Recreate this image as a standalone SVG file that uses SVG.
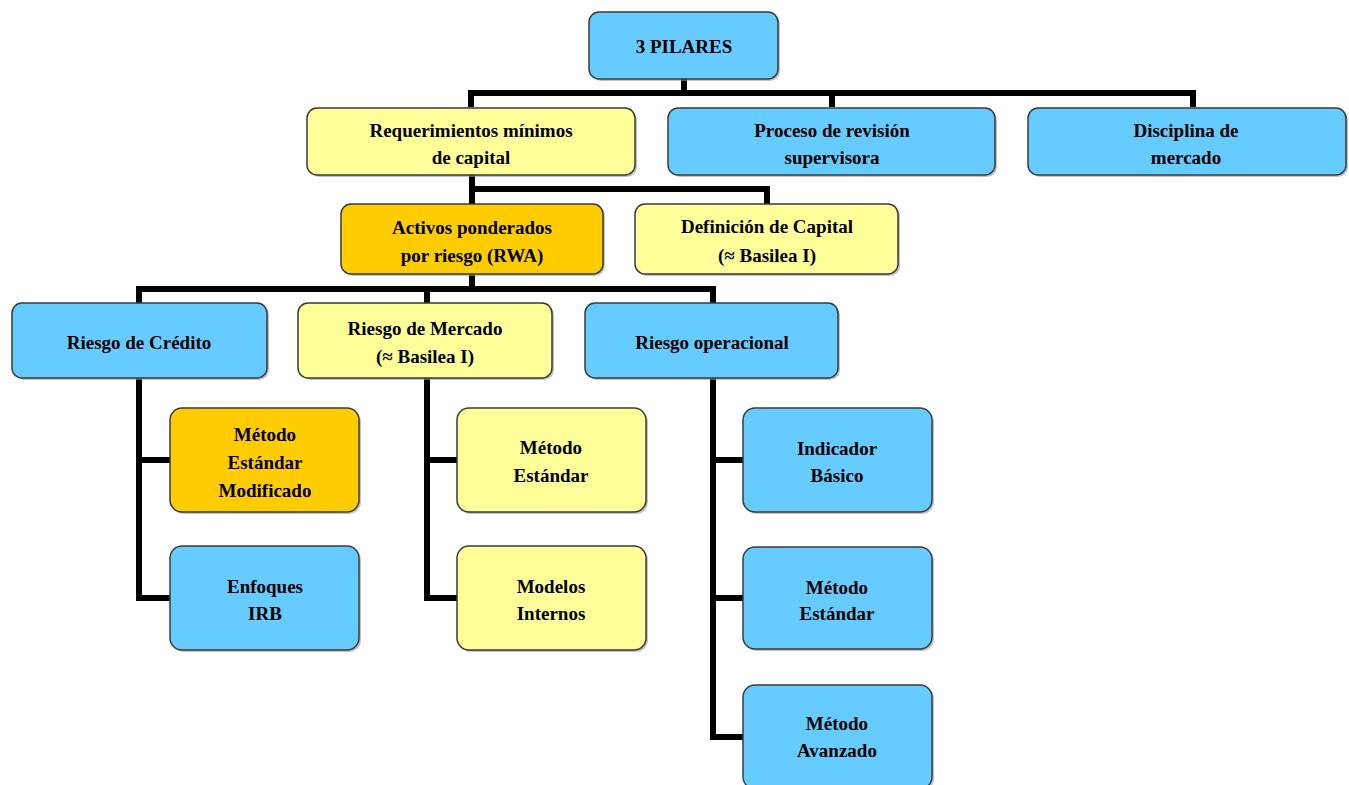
<svg xmlns="http://www.w3.org/2000/svg" width="1349" height="785" viewBox="0 0 1349 785">
<defs>
<style>
.box{stroke:#3a3a3a;stroke-width:1.5}
.shadow{fill:#9a9a9a;opacity:0.6}
.blue{fill:#66CCFF}
.yellow{fill:#FFFF99}
.orange{fill:#FFCC00}
.t{font-family:"Liberation Serif","Times New Roman",serif;font-weight:bold;font-size:19px;fill:#000;text-anchor:middle}
.conn{fill:none;stroke:#000;stroke-width:6;stroke-linejoin:miter;stroke-linecap:butt}
</style>
</defs>
<rect width="1349" height="785" fill="#fff"/>
<g id="connectors">
<path class="conn" d="M684 79V93M471 93H1196M471 90V107M832 93V107M1193 90V107"/>
<path class="conn" d="M472 175V204M472 189H770M767 186V204"/>
<path class="conn" d="M472 274V289M136 289H716M139 286V303M427 289V303M713 286V303"/>
<path class="conn" d="M139 378V601M136 460H170M136 598H170"/>
<path class="conn" d="M427 378V601M424 460H457M424 598H457"/>
<path class="conn" d="M713 378V740M710 460H743M710 598H743M710 737H743"/>
</g>
<g id="n-pilares">
<rect class="shadow" x="591" y="14" width="189" height="67" rx="10"/>
<rect class="box blue" x="589" y="12" width="189" height="67" rx="10"/>
<text class="t" x="684" y="53">3 PILARES</text>
</g>
<g id="n-requerimientos">
<rect class="shadow" x="309" y="110" width="328" height="67" rx="10"/>
<rect class="box yellow" x="307" y="108" width="328" height="67" rx="10"/>
<text class="t" x="471" y="137">Requerimientos mínimos</text>
<text class="t" x="471" y="164">de capital</text>
</g>
<g id="n-proceso">
<rect class="shadow" x="670" y="110" width="327" height="67" rx="10"/>
<rect class="box blue" x="668" y="108" width="327" height="67" rx="10"/>
<text class="t" x="832" y="137">Proceso de revisión</text>
<text class="t" x="832" y="164">supervisora</text>
</g>
<g id="n-disciplina">
<rect class="shadow" x="1030" y="110" width="318" height="67" rx="10"/>
<rect class="box blue" x="1028" y="108" width="318" height="67" rx="10"/>
<text class="t" x="1186" y="137">Disciplina de</text>
<text class="t" x="1186" y="164">mercado</text>
</g>
<g id="n-activos">
<rect class="shadow" x="343" y="206" width="262" height="70" rx="10"/>
<rect class="box orange" x="341" y="204" width="262" height="70" rx="10"/>
<text class="t" x="472" y="234">Activos ponderados</text>
<text class="t" x="472" y="262">por riesgo (RWA)</text>
</g>
<g id="n-definicion">
<rect class="shadow" x="637" y="206" width="263" height="70" rx="10"/>
<rect class="box yellow" x="635" y="204" width="263" height="70" rx="10"/>
<text class="t" x="767" y="233">Definición de Capital</text>
<text class="t" x="767" y="262">(≈ Basilea I)</text>
</g>
<g id="n-credito">
<rect class="shadow" x="14" y="305" width="255" height="75" rx="10"/>
<rect class="box blue" x="12" y="303" width="255" height="75" rx="10"/>
<text class="t" x="139" y="349">Riesgo de Crédito</text>
</g>
<g id="n-mercado">
<rect class="shadow" x="300" y="305" width="254" height="75" rx="10"/>
<rect class="box yellow" x="298" y="303" width="254" height="75" rx="10"/>
<text class="t" x="425" y="335">Riesgo de Mercado</text>
<text class="t" x="425" y="363">(≈ Basilea I)</text>
</g>
<g id="n-operacional">
<rect class="shadow" x="587" y="305" width="253" height="75" rx="10"/>
<rect class="box blue" x="585" y="303" width="253" height="75" rx="10"/>
<text class="t" x="712" y="349">Riesgo operacional</text>
</g>
<g id="n-metodo-estandar-modificado">
<rect class="shadow" x="172" y="410" width="189" height="104" rx="12"/>
<rect class="box orange" x="170" y="408" width="189" height="104" rx="12"/>
<text class="t" x="265" y="441">Método</text>
<text class="t" x="265" y="469">Estándar</text>
<text class="t" x="265" y="497">Modificado</text>
</g>
<g id="n-enfoques-irb">
<rect class="shadow" x="172" y="548" width="189" height="104" rx="12"/>
<rect class="box blue" x="170" y="546" width="189" height="104" rx="12"/>
<text class="t" x="265" y="593">Enfoques</text>
<text class="t" x="265" y="620">IRB</text>
</g>
<g id="n-mercado-estandar">
<rect class="shadow" x="459" y="410" width="189" height="104" rx="12"/>
<rect class="box yellow" x="457" y="408" width="189" height="104" rx="12"/>
<text class="t" x="551" y="454">Método</text>
<text class="t" x="551" y="482">Estándar</text>
</g>
<g id="n-modelos-internos">
<rect class="shadow" x="459" y="548" width="189" height="104" rx="12"/>
<rect class="box yellow" x="457" y="546" width="189" height="104" rx="12"/>
<text class="t" x="551" y="593">Modelos</text>
<text class="t" x="551" y="620">Internos</text>
</g>
<g id="n-indicador-basico">
<rect class="shadow" x="745" y="410" width="189" height="104" rx="12"/>
<rect class="box blue" x="743" y="408" width="189" height="104" rx="12"/>
<text class="t" x="837" y="455">Indicador</text>
<text class="t" x="837" y="482">Básico</text>
</g>
<g id="n-op-estandar">
<rect class="shadow" x="745" y="549" width="189" height="102" rx="12"/>
<rect class="box blue" x="743" y="547" width="189" height="102" rx="12"/>
<text class="t" x="837" y="594">Método</text>
<text class="t" x="837" y="620">Estándar</text>
</g>
<g id="n-op-avanzado">
<rect class="shadow" x="745" y="687" width="189" height="104" rx="12"/>
<rect class="box blue" x="743" y="685" width="189" height="104" rx="12"/>
<text class="t" x="837" y="730">Método</text>
<text class="t" x="837" y="757">Avanzado</text>
</g>
</svg>
